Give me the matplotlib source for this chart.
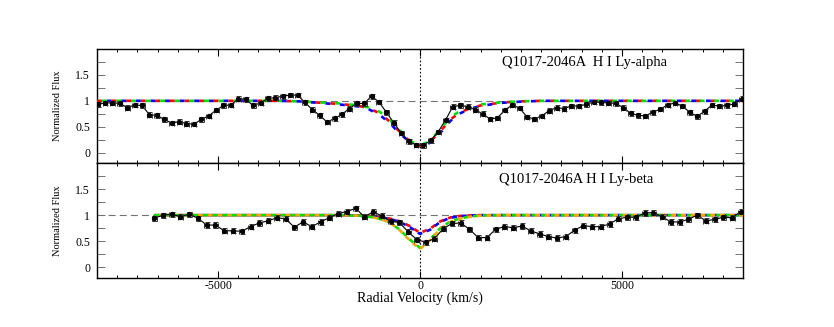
import matplotlib
matplotlib.use("Agg")
import matplotlib.pyplot as plt
from matplotlib.ticker import MultipleLocator

plt.rcParams['font.family'] = ['Liberation Serif', 'DejaVu Serif']
plt.rcParams['lines.scale_dashes'] = False

# Ly-alpha data (velocity in km/s, normalized flux)
alpha_vel = [-7983, -7800, -7617, -7433, -7250, -7067, -6883, -6700, -6517, -6333,
             -6150, -5967, -5784, -5600, -5417, -5234, -5050, -4867, -4684, -4500,
             -4317, -4134, -3950, -3767, -3584, -3401, -3217, -3034, -2851, -2667,
             -2484, -2301, -2117, -1934, -1751, -1568, -1384, -1201, -1018, -834,
             -651, -468, -284, -101, 82, 266, 449, 632, 815, 999,
             1182, 1365, 1549, 1732, 1915, 2099, 2282, 2465, 2648, 2832,
             3015, 3198, 3382, 3565, 3748, 3931, 4115, 4298, 4481, 4665,
             4848, 5031, 5215, 5398, 5581, 5765, 5948, 6131, 6314, 6498,
             6681, 6864, 7048, 7231, 7414, 7598, 7781, 7964]
alpha_flux = [0.93, 0.96, 0.96, 0.95, 0.87, 0.92, 0.91, 0.73, 0.72, 0.64,
              0.57, 0.60, 0.56, 0.55, 0.64, 0.71, 0.82, 0.91, 0.92, 1.04,
              1.03, 0.91, 0.96, 1.05, 1.06, 1.09, 1.11, 1.11, 0.97, 0.83,
              0.72, 0.59, 0.66, 0.74, 0.85, 0.95, 0.95, 1.09, 0.98, 0.78,
              0.58, 0.38, 0.22, 0.15, 0.14, 0.24, 0.40, 0.63, 0.89, 0.91,
              0.89, 0.83, 0.75, 0.65, 0.67, 0.82, 0.92, 0.86, 0.69, 0.65,
              0.71, 0.81, 0.87, 0.85, 0.90, 0.90, 0.93, 0.98, 0.97, 0.96,
              0.95, 0.87, 0.76, 0.72, 0.71, 0.78, 0.84, 0.92, 0.96, 0.90,
              0.78, 0.70, 0.80, 0.92, 0.90, 0.91, 0.94, 1.04]
alpha_err = 0.045

# Ly-beta data
beta_vel = [-6584, -6367, -6150, -5933, -5716, -5500, -5283, -5066, -4849, -4632,
            -4415, -4198, -3981, -3764, -3547, -3331, -3114, -2897, -2680, -2463,
            -2246, -2029, -1812, -1595, -1378, -1162, -945, -728, -511, -294,
            -77, 140, 357, 574, 791, 1008, 1224, 1441, 1658, 1875,
            2092, 2309, 2526, 2743, 2960, 3177, 3393, 3610, 3827, 4044,
            4261, 4478, 4695, 4912, 5129, 5346, 5562, 5779, 5996, 6213,
            6430, 6647, 6864, 7081, 7298, 7515, 7731, 7948]
beta_flux = [0.94, 1.00, 1.02, 0.97, 1.02, 0.94, 0.81, 0.81, 0.70, 0.70,
             0.69, 0.78, 0.85, 0.89, 0.95, 0.93, 0.77, 0.87, 0.78, 0.87,
             0.95, 1.03, 1.07, 1.13, 0.97, 1.06, 0.99, 0.88, 0.86, 0.68,
             0.53, 0.48, 0.55, 0.74, 0.84, 0.85, 0.73, 0.57, 0.57, 0.73,
             0.78, 0.76, 0.79, 0.70, 0.64, 0.59, 0.56, 0.59, 0.71, 0.80,
             0.78, 0.78, 0.83, 0.93, 0.96, 0.96, 1.04, 1.05, 0.97, 0.87,
             0.87, 0.92, 1.00, 0.89, 0.92, 0.96, 0.95, 1.07]
beta_err = 0.05

# model profiles
alpha_mvel = [-8000, -3500, -3000, -2500, -2000, -1500, -1250, -1000, -750, -500, -250,
              0, 250, 500, 750, 1000, 1250, 1500, 2000, 2500, 3000, 8000]
alpha_red = [1, 1, 0.99, 0.965, 0.94, 0.90, 0.85, 0.76, 0.60, 0.40, 0.22,
             0.13, 0.21, 0.41, 0.64, 0.78, 0.86, 0.91, 0.965, 0.99, 1, 1]
alpha_blue = [1, 1, 0.99, 0.96, 0.93, 0.89, 0.83, 0.73, 0.57, 0.37, 0.20,
              0.12, 0.19, 0.38, 0.61, 0.76, 0.85, 0.90, 0.96, 0.985, 1, 1]
alpha_green = [1, 1, 0.99, 0.97, 0.95, 0.91, 0.87, 0.79, 0.64, 0.43, 0.23,
               0.13, 0.23, 0.45, 0.68, 0.81, 0.88, 0.93, 0.97, 0.99, 1, 1]

beta_mvel = [-6584, -2000, -1500, -1250, -1000, -750, -500, -250, 0,
             250, 500, 750, 1000, 1250, 1500, 2000, 8000]
beta_red = [1, 1, 0.995, 0.985, 0.965, 0.935, 0.88, 0.79, 0.66,
            0.74, 0.88, 0.955, 0.985, 0.995, 1, 1, 1]
beta_blue = [1, 1, 0.99, 0.98, 0.96, 0.93, 0.87, 0.77, 0.64,
             0.72, 0.87, 0.95, 0.98, 0.995, 1, 1, 1]
beta_green = [1, 1, 0.99, 0.97, 0.93, 0.86, 0.72, 0.53, 0.37,
              0.53, 0.75, 0.88, 0.94, 0.975, 0.995, 1, 1]
beta_orange = [1, 1, 0.99, 0.97, 0.93, 0.86, 0.71, 0.51, 0.35,
               0.52, 0.74, 0.87, 0.935, 0.97, 0.99, 1, 1]

fig = plt.figure(figsize=(8.34, 3.27), dpi=100)
ax1 = fig.add_axes([0.1163, 0.5015, 0.7746, 0.3486])
ax2 = fig.add_axes([0.1163, 0.1507, 0.7746, 0.3508])


def style_axis(ax):
    ax.set_xlim(-8000, 8000)
    ax.set_ylim(-0.2, 2.0)
    ax.axhline(1, color='0.45', lw=0.8, ls=(0, (5, 3)), zorder=1)
    ax.axvline(0, color='k', lw=0.8, ls=(0, (1.2, 1.5)), zorder=1)
    ax.xaxis.set_major_locator(MultipleLocator(5000))
    ax.xaxis.set_minor_locator(MultipleLocator(500))
    ax.set_yticks([0, 0.5, 1, 1.5])
    ax.set_yticklabels(['0', '0.5', '1', '1.5'])
    ax.yaxis.set_minor_locator(MultipleLocator(0.25))
    ax.tick_params(axis='x', which='major', direction='in', top=True, length=5, width=0.8)
    ax.tick_params(axis='x', which='minor', direction='in', top=True, length=2.5, width=0.7)
    ax.tick_params(axis='y', which='both', direction='in', right=True, length=6,
                   width=0.7, color='0.45', labelsize=8.5, pad=5)
    for s in ax.spines.values():
        s.set_linewidth(1.0)


def draw_model(ax, v, f, color, offset, period):
    ax.plot(v, f, color=color, lw=1.9, ls=(offset, (3.5, period - 3.5)), zorder=3)


def draw_data(ax, v, f, err):
    ax.errorbar(v, f, yerr=err, xerr=60, fmt='o', color='k', ms=2.8,
                ecolor='0.2', elinewidth=0.8, capsize=1.8, capthick=0.7, zorder=5)
    ax.plot(v, f, color='k', lw=0.8, zorder=4)


style_axis(ax1)
style_axis(ax2)

draw_model(ax1, alpha_mvel, alpha_red, '#ff0000', 0, 10.5)
draw_model(ax1, alpha_mvel, alpha_blue, '#0000ff', 3.5, 10.5)
draw_model(ax1, alpha_mvel, alpha_green, '#00e000', 7, 10.5)
draw_data(ax1, alpha_vel, alpha_flux, alpha_err)

draw_model(ax2, beta_mvel, beta_red, '#ff0000', 0, 7)
draw_model(ax2, beta_mvel, beta_blue, '#0000ff', 3.5, 7)
draw_model(ax2, beta_mvel, beta_green, '#00e000', 0, 7)
draw_model(ax2, beta_mvel, beta_orange, '#ffa500', 3.5, 7)
draw_data(ax2, beta_vel, beta_flux, beta_err)

ax1.tick_params(axis='x', labelbottom=False)
ax2.set_xticks([-5000, 0, 5000])
ax2.set_xticklabels(['-5000', '0', '5000'], fontsize=8.5)
ax2.tick_params(axis='x', which='major', pad=1.5)

ax1.text(0.627, 0.886, 'Q1017-2046A  H I Ly-alpha', transform=ax1.transAxes,
         ha='left', va='center', fontsize=10.5)
ax2.text(0.623, 0.86, 'Q1017-2046A H I Ly-beta', transform=ax2.transAxes,
         ha='left', va='center', fontsize=10.5)

fig.text(57 / 834, 1 - 106 / 327, 'Normalized Flux', rotation=90,
         ha='center', va='center', fontsize=7.5)
fig.text(57 / 834, 1 - 221 / 327, 'Normalized Flux', rotation=90,
         ha='center', va='center', fontsize=7.5)
fig.text(420 / 834, 1 - 298 / 327, 'Radial Velocity (km/s)', ha='center',
         va='center', fontsize=10)

fig.savefig('out.png', dpi=100)
